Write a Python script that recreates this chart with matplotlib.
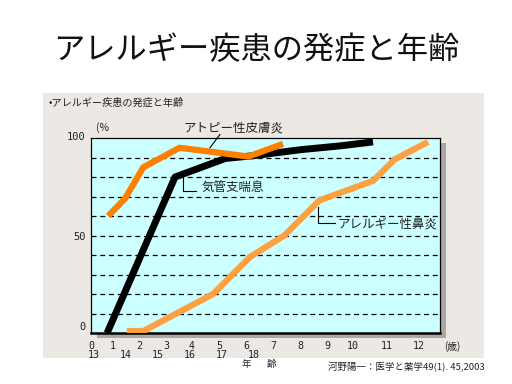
import matplotlib
matplotlib.use("Agg")
import matplotlib.pyplot as plt
from matplotlib.patches import Rectangle

plt.rcParams['font.family'] = ['Noto Sans CJK JP', 'DejaVu Sans']

# ages (years) and onset rate (%)
atopy_x = [0.64, 1.27, 1.95, 3.3, 5.86, 7.15]
atopy_y = [60, 69, 85, 95, 90.5, 97]
asthma_x = [0.6, 3.13, 5.0, 6.1, 7.8, 9.3, 10.5]
asthma_y = [0, 80, 89.5, 91, 94, 96, 98]
rhinitis_x = [1.33, 1.95, 4.55, 5.92, 7.2, 8.5, 10.5, 11.3, 12.55]
rhinitis_y = [1, 1, 20, 39, 50, 68, 78, 89, 98]

age_pos = [0, 0.82, 1.79, 2.79, 3.76, 4.77, 5.77, 6.78, 7.78, 8.79, 9.76, 11.02, 12.22]
age_lab = [str(i) for i in range(13)]
age2_pos = [0.12, 1.30, 2.5, 3.69, 4.88, 6.07]
age2_lab = ['13', '14', '15', '16', '17', '18']
grid_y = [10, 20, 30, 40, 50, 60, 70, 80, 90]

fig = plt.figure(figsize=(5.12, 3.84), dpi=100)
fig.patch.set_facecolor('white')

# gray picture panel
fig.patches.append(Rectangle((0.084, 0.0677), 0.861, 0.690, transform=fig.transFigure,
                             facecolor='#ece9e5', edgecolor='none', zorder=-2))
# shadow under the plot box
fig.patches.append(Rectangle((0.1777 + 0.011, 0.1328 - 0.012), 0.682, 0.5078,
                             transform=fig.transFigure, facecolor='#a8a8a8',
                             edgecolor='none', zorder=-1))

fig.text(0.5, 0.870, 'アレルギー疾患の発症と年齢', ha='center', va='center',
         fontsize=22.5, color='#111111')
fig.text(0.094, 0.732, '•アレルギー疾患の発症と年齢', ha='left', va='center',
         fontsize=7.3, color='#222222')

ax = fig.add_axes([0.1777, 0.1328, 0.682, 0.5078])
ax.set_facecolor('#ccffff')
ax.set_xlim(0, 13)
ax.set_ylim(0, 100)
ax.set_xticks([])
ax.set_yticks([])
for s in ax.spines.values():
    s.set_linewidth(0.9)
ax.spines['bottom'].set_linewidth(1.8)

for g in grid_y:
    ax.axhline(g, color='black', lw=0.9, ls=(0, (4, 3)), zorder=1)

ax.plot(rhinitis_x, rhinitis_y, color='#ffa040', lw=4.5, solid_capstyle='butt', zorder=3)
ax.plot(asthma_x, asthma_y, color='black', lw=5, solid_capstyle='butt', zorder=4,
        clip_on=False)
ax.plot(atopy_x, atopy_y, color='#ff8000', lw=4.5, solid_capstyle='butt', zorder=5)

mono = 'DejaVu Sans Mono'
for p, l in zip(age_pos, age_lab):
    ax.text(p, -6.7, l, ha='center', va='center', fontsize=7.2, family=mono,
            color='#222222', clip_on=False)
for p, l in zip(age2_pos, age2_lab):
    ax.text(p, -11.3, l, ha='center', va='center', fontsize=7.2, family=mono,
            color='#222222', clip_on=False)
ax.text(13.45, -6.7, '(歳)', ha='center', va='center', fontsize=7, color='#222222',
        clip_on=False)

for v, yy in [(100, 100.5), (50, 49), (0, 3)]:
    ax.text(-0.2, yy, str(v), ha='right', va='center', fontsize=7.5, family=mono,
            color='#222222', clip_on=False)
ax.text(0.2, 105.6, '(%', ha='left', va='center', fontsize=7.5, color='#222222',
        clip_on=False)

# labels with leader lines
ax.text(3.43, 105.2, 'アトピー性皮膚炎', ha='left', va='center', fontsize=9,
        color='#222222', clip_on=False)
ax.plot([4.8, 4.43], [101.8, 95], color='black', lw=0.8, clip_on=False, zorder=6)

ax.text(4.1, 74.9, '気管支喘息', ha='left', va='center', fontsize=9, color='#222222')
ax.plot([3.41, 3.41, 3.91], [80, 72.8, 72.8], color='black', lw=0.8, zorder=6)

ax.text(9.16, 55.4, 'アレルギー性鼻炎', ha='left', va='center', fontsize=9,
        color='#222222')
ax.plot([8.44, 8.44, 9.09], [64.8, 56.3, 56.3], color='black', lw=0.8, zorder=6)

fig.text(0.482, 0.0495, '年', ha='center', va='center', fontsize=6.8, color='#222222')
fig.text(0.531, 0.0495, '齢', ha='center', va='center', fontsize=6.8, color='#222222')
fig.text(0.640, 0.044, '河野陽一：医学と薬学49(1). 45,2003', ha='left', va='center',
         fontsize=6.8, color='#222222')

fig.savefig('out.png', dpi=100)
